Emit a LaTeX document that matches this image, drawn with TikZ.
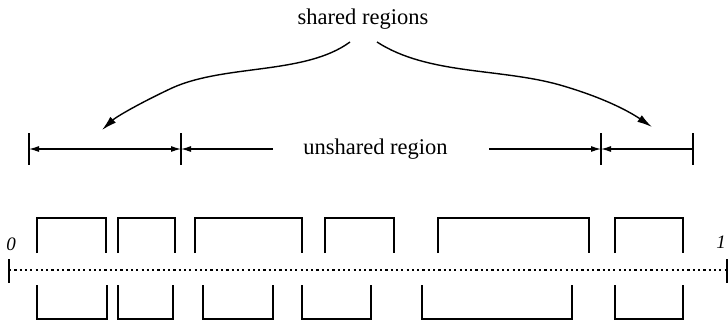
\documentclass[tikz,border=0pt]{standalone}
\usepackage{fontspec}
\setmainfont{Liberation Serif}
\usetikzlibrary{arrows.meta}
\begin{document}
\begin{tikzpicture}[x=1pt,y=-1pt,
  lbl/.style={font=\fontsize{22.5}{24}\selectfont, inner sep=0pt},
  endlbl/.style={font=\itshape\fontsize{19}{21}\selectfont, inner sep=0pt},
  seg/.style={line width=2.6pt, line cap=butt, line join=miter},
  dimline/.style={line width=1.1pt},
  tickline/.style={line width=1.5pt},
  dimtip/.style={-{Latex[length=10pt,width=6pt]}},
  curvetip/.style={line width=1.4pt, -{Latex[length=15pt,width=8pt]}},
  axis/.style={line width=2.2pt, dash pattern=on 2.2pt off 3.1pt}]
\clip (0,0) rectangle (728,322);
\fill[white] (0,0) rectangle (728,322);

% labels
\node[lbl] (sr) at (363,19) {shared regions};
\node[lbl] (ur) at (375.5,149) {unshared region};
\node[endlbl] (zero) at (11,244) {0};
\node[endlbl] (one) at (721,242) {1};

% dimension ticks
\foreach \n/\x in {a/29,b/181,c/601,d/693}{
  \coordinate (\n t) at (\x,133);
  \coordinate (\n b) at (\x,165);
  \coordinate (\n) at (\x,149);
  \draw[tickline] (\n t) -- (\n b);
}
\coordinate (ul) at (273,149);
\coordinate (ur2) at (489,149);
\draw[dimline, {Latex[length=10pt,width=6pt]}-{Latex[length=10pt,width=6pt]}] (a) -- (b);
\draw[dimline, {Latex[length=10pt,width=6pt]}-] (b) -- (ul);
\draw[dimline, dimtip] (ur2) -- (c);
\draw[dimline, {Latex[length=10pt,width=6pt]}-] (c) -- (d);

% curved arrows
\coordinate (ls) at (350,42);
\coordinate (rs) at (377,42);
\coordinate (lt) at (102,130);
\coordinate (rt) at (652,127);
\draw[curvetip] (ls) .. controls (305,75) and (225,64) .. (172,88)
                     .. controls (138,104) and (116,117) .. (lt);
\draw[curvetip] (rs) .. controls (428,75) and (500,68) .. (560,85)
                     .. controls (605,98) and (630,112) .. (rt);

% axis
\coordinate (x0) at (9,270);
\coordinate (x1) at (727,270);
\draw[axis] (x0) -- (x1);
\draw[tickline, line width=2.4pt] (9,259) -- (9,283);
\draw[tickline, line width=2.4pt] (727,259) -- (727,283);

% top boxes
\foreach \l/\r in {37/106,118/175,195/302,325/394,438/589,615/683}{
  \draw[seg] (\l,253) -- (\l,218) -- (\r,218) -- (\r,253);
}
% bottom boxes
\foreach \l/\r in {37/107,118/173,203/273,302/371,422/572,615/683}{
  \draw[seg] (\l,285) -- (\l,319) -- (\r,319) -- (\r,285);
}
\end{tikzpicture}
\end{document}
